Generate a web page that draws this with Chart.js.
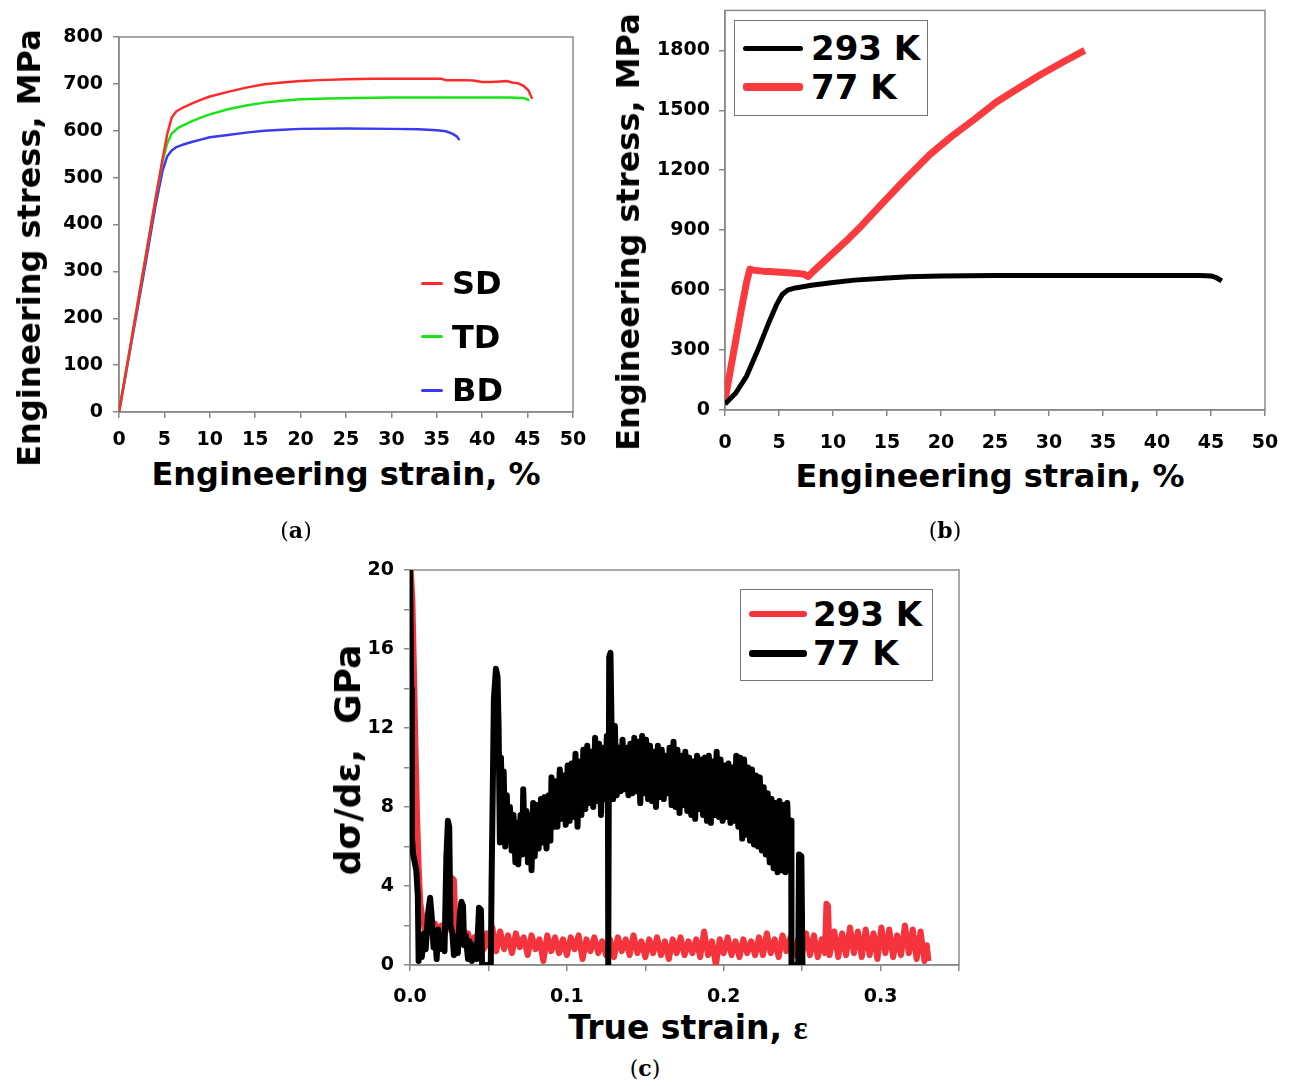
<!DOCTYPE html>
<html>
<head>
<meta charset="utf-8">
<title>Tensile behaviour</title>
<script src="https://cdn.jsdelivr.net/npm/chart.js@4.4.0/dist/chart.umd.min.js"></script>
<style>
  body { margin: 0; width: 1291px; height: 1086px; background: #fff; position: relative; overflow: hidden; font-family: 'DejaVu Sans', sans-serif; }
  canvas { position: absolute; }
  .title { position: absolute; font-weight: bold; font-size: 32px; line-height: 1; white-space: pre; color: #000; }
  .ytitle { transform: translate(-50%, -50%) rotate(-90deg); }
  .xtitle { transform: translate(-50%, -50%); }
  .serif { font-family: 'Liberation Serif', serif; }
  .tag { position: absolute; font-family: 'DejaVu Serif', serif; font-size: 22px; line-height: 1; transform: translate(-50%, -50%); }
  .box { position: absolute; border: 1.5px solid #777; background: #fff; box-sizing: border-box; }
  .seg { position: absolute; border-radius: 3px; }
  .key { position: absolute; font-weight: bold; line-height: 1; transform: translateY(-50%); white-space: pre; }
</style>
</head>
<body>
<canvas id="chartA" width="600" height="450" style="left:0;top:0"></canvas>
<canvas id="chartB" width="700" height="460" style="left:600px;top:-10px"></canvas>
<canvas id="chartC" width="700" height="465" style="left:300px;top:540px"></canvas>

<div class="title ytitle" style="left:29px;top:248px">Engineering stress, MPa</div>
<div class="title xtitle" style="left:346px;top:474px">Engineering strain, %</div>
<div class="title ytitle" style="left:628px;top:232px">Engineering stress, MPa</div>
<div class="title xtitle" style="left:990px;top:476px">Engineering strain, %</div>
<div class="title ytitle" style="left:348px;top:760px;font-size:36px">dσ/dε,  GPa</div>
<div class="title xtitle" style="left:688px;top:1028px;font-size:33px">True strain, <span class="serif">ε</span></div>

<div class="tag" style="left:296px;top:530px">(<b>a</b>)</div>
<div class="tag" style="left:945px;top:530px">(<b>b</b>)</div>
<div class="tag" style="left:645px;top:1068px">(<b>c</b>)</div>

<script>
// (a) engineering stress-strain curves for the three directions
const directionLabels = ['SD', 'TD', 'BD'];
const directionColors = ['#ff2b2b', '#18e418', '#3a3af0'];
const sdCurve = [[0, 0], [1, 112], [2, 225], [3, 338], [4, 452], [4.8, 540], [5.3, 592],
  [5.8, 628], [6.3, 641], [7, 649], [8, 658], [9, 666], [10, 673], [12, 683], [14, 692], [16, 699], [18, 703],
  [20, 706], [22, 708], [25, 710], [28, 711], [31, 711], [34, 711], [35.5, 711], [36, 708], [37, 708], [38, 708],
  [39, 707], [40, 704], [41, 704], [42, 705], [42.7, 706], [43.3, 703], [44, 701], [44.6, 695], [45.1, 686], [45.5, 668]];
const tdCurve = [[0, 0], [1, 112], [2, 225], [3, 338], [4, 452], [4.8, 535], [5.3, 573],
  [5.8, 594], [6.5, 606], [7, 611], [8, 620], [9, 628], [10, 635], [12, 646], [14, 654], [16, 660], [18, 664],
  [20, 667], [23, 669], [26, 670], [30, 671], [35, 671], [40, 671], [43, 671], [44.5, 670], [45.2, 665]];
const bdCurve = [[0, 0], [1, 108], [2, 216], [3, 325], [4, 438], [4.8, 515], [5.3, 545],
  [5.8, 558], [6.3, 565], [7, 570], [8, 576], [9, 581], [10, 586], [12, 591], [14, 596], [16, 600], [18, 602],
  [20, 604], [25, 605], [30, 604], [33, 603], [35, 601], [36, 599], [36.7, 594], [37.2, 588], [37.5, 580]];

// (b) room temperature vs liquid nitrogen
const tempLabels = ['293 K', '77 K'];
const roomCurve = [[0, 30], [1, 85], [2, 170], [3, 295], [4, 430], [4.8, 530], [5.3, 578],
  [5.8, 600], [6.5, 611], [8, 624], [10, 638], [12, 650], [15, 661], [17, 667], [20, 671], [25, 673], [30, 673],
  [35, 673], [40, 673], [44, 673], [45, 671], [45.5, 662], [46, 646]];
const cryoCurve = [[0, 50], [0.5, 200], [1.0, 350], [1.5, 500], [2.0, 640], [2.3, 705], [2.6, 700], [3.5, 695],
  [4.5, 692], [5.5, 688], [6.5, 684], [7.3, 680], [7.7, 668], [8.2, 695], [8.8, 725], [10, 785], [11.2, 845],
  [12.6, 920], [14.5, 1030], [16.6, 1150], [19, 1280], [21, 1370], [23.1, 1455], [25.1, 1540], [27.2, 1612],
  [29.2, 1678], [31.3, 1742], [33.3, 1800]];

// (c) work-hardening rate vs true strain
const hardeningLabels = ['293 K', '77 K'];
const roomHardening = [[0.0005, 20], [0.0015, 18.5], [0.0025, 15], [0.0035, 11], [0.0045, 7.5], [0.0055, 5],
  [0.0065, 3.2], [0.0075, 2.6], [0.0085, 2.2], [0.010, 1.6], [0.012, 2.2], [0.014, 1.7], [0.016, 2.1], [0.018, 1.5],
  [0.020, 2.0], [0.022, 1.5], [0.024, 2.1], [0.026, 2.4], [0.0268, 4.4], [0.028, 4.3], [0.029, 2.0], [0.031, 1.4],
  [0.033, 1.8], [0.035, 1.1], [0.037, 1.6], [0.039, 0.9], [0.041, 1.4], [0.043, 0.6], [0.045, 1.3], [0.047, 0.8],
  [0.049, 1.6], [0.051, 0.9], [0.0525, 1.9], [0.055, 0.7], [0.0575, 1.7], [0.060, 0.8], [0.0625, 1.5], [0.065, 0.6],
  [0.0675, 1.6], [0.070, 0.9], [0.0725, 1.4], [0.075, 0.5], [0.0775, 1.5], [0.080, 0.8], [0.0825, 1.3], [0.085, 0.2],
  [0.0875, 1.5], [0.090, 0.7], [0.0925, 1.4], [0.095, 0.6], [0.0975, 1.3], [0.100, 0.5], [0.1025, 1.4], [0.105, 0.8],
  [0.1075, 1.5], [0.110, 0.3], [0.1125, 1.3], [0.115, 0.7], [0.1175, 1.4], [0.120, 0.6], [0.1225, 1.2], [0.125, 0.5],
  [0.1275, 1.3], [0.130, 0.4], [0.1325, 1.4], [0.135, 0.7], [0.1375, 1.3], [0.140, 0.5], [0.1425, 1.5], [0.145, 0.6],
  [0.1475, 1.2], [0.150, 0.4], [0.1525, 1.3], [0.155, 0.6], [0.1575, 1.4], [0.160, 0.5], [0.1625, 1.2], [0.165, 0.3],
  [0.1675, 1.3], [0.170, 0.6], [0.1725, 1.4], [0.175, 0.5], [0.1775, 1.2], [0.180, 0.6], [0.1825, 1.3], [0.185, 0.4],
  [0.1875, 1.7], [0.190, 0.5], [0.1925, 1.2], [0.195, 0.0], [0.1975, 1.3], [0.200, 0.6], [0.2025, 1.4], [0.205, 0.5],
  [0.2075, 1.2], [0.210, 0.4], [0.2125, 1.3], [0.215, 0.6], [0.2175, 1.2], [0.220, 0.5], [0.2225, 1.4], [0.225, 0.5],
  [0.2275, 1.6], [0.230, 0.6], [0.2325, 1.3], [0.235, 0.4], [0.2375, 1.5], [0.240, 0.7], [0.2425, 1.4], [0.245, 0.5],
  [0.2475, 1.3], [0.250, 0.6], [0.2525, 1.6], [0.255, 0.5], [0.2575, 1.5], [0.260, 0.4], [0.2625, 1.3], [0.2645, 0.6],
  [0.2655, 3.1], [0.2665, 3.0], [0.2675, 0.5], [0.2705, 1.7], [0.273, 0.4], [0.2755, 1.6], [0.278, 0.5], [0.2805, 1.9],
  [0.283, 0.6], [0.2855, 1.7], [0.288, 0.4], [0.2905, 1.8], [0.293, 0.5], [0.2955, 1.6], [0.298, 0.3], [0.3005, 1.9],
  [0.303, 0.6], [0.3055, 1.8], [0.308, 0.4], [0.3105, 1.5], [0.313, 0.5], [0.3155, 2.0], [0.318, 0.6], [0.3205, 1.8],
  [0.323, 0.3], [0.3255, 1.7], [0.328, 0.2], [0.3295, 1.0], [0.3305, 0.2]];
const cryoHardening = [[0.0, 20], [0.0008, 14], [0.0012, 6.5], [0.002, 5.6], [0.004, 4.8], [0.005, 3.5], [0.0055, 0.2],
  [0.0065, 1.4], [0.0075, 0.4], [0.009, 1.6], [0.010, 0.8], [0.0115, 2.6], [0.0128, 3.4], [0.0138, 2.5], [0.015, 0.9],
  [0.016, 1.6], [0.017, 0.3], [0.018, 1.8], [0.019, 0.8], [0.0205, 1.5], [0.022, 0.7], [0.0232, 5.5], [0.0242, 7.3],
  [0.025, 7.0], [0.0258, 2.0], [0.027, 1.6], [0.028, 0.5], [0.029, 1.4], [0.0305, 0.6], [0.0318, 2.6], [0.0328, 3.2],
  [0.0338, 3.0], [0.0345, 1.0], [0.0355, 1.5], [0.037, 0.3], [0.038, 1.2], [0.0395, 0.2], [0.041, 1.0], [0.0425, 0.3],
  [0.044, 2.9], [0.0452, 2.8], [0.046, 0.0], [0.0515, 0.0], [0.052, 4.1], [0.0535, 13.5], [0.0548, 15.0],
  [0.0558, 14.6], [0.0565, 12.0], [0.0573, 6.2], [0.058, 10.5], [0.059, 6.5], [0.0597, 9.8], [0.0607, 6.0],
  [0.0617, 8.6], [0.0627, 6.3], [0.0637, 8.0], [0.0648, 5.8], [0.066, 7.6], [0.0672, 5.2], [0.0685, 7.2], [0.069, 5.1],
  [0.0705, 7.6], [0.0715, 5.6], [0.0722, 8.9], [0.0732, 6.0], [0.0742, 7.8], [0.0752, 5.2], [0.0765, 7.6], [0.0775, 4.8],
  [0.0785, 8.2], [0.0795, 5.5], [0.081, 8.1], [0.082, 5.9], [0.0835, 8.4], [0.0845, 6.2], [0.0858, 8.5], [0.087, 5.9],
  [0.0885, 8.6], [0.0895, 6.3], [0.0902, 9.5], [0.0915, 7.0], [0.0928, 9.3], [0.094, 7.0], [0.0955, 9.9], [0.0968, 7.4],
  [0.098, 9.6], [0.0993, 7.1], [0.1005, 10.1], [0.1018, 7.3], [0.103, 10.2], [0.1043, 7.5], [0.1055, 10.7],
  [0.1068, 7.0], [0.108, 10.3], [0.1093, 7.6], [0.1105, 10.9], [0.1118, 7.9], [0.113, 11.1], [0.1143, 8.2],
  [0.1155, 10.8], [0.1168, 8.0], [0.118, 11.5], [0.1193, 8.3], [0.1205, 11.2], [0.1218, 7.6], [0.123, 11.0],
  [0.1243, 8.4], [0.1255, 11.6], [0.1262, 8.4], [0.1264, 0.0], [0.1268, 0.0], [0.127, 15.6], [0.1278, 15.8],
  [0.1285, 12.0], [0.1295, 8.4], [0.1306, 12.1], [0.1318, 8.6], [0.133, 11.0], [0.1343, 8.8], [0.1355, 11.4],
  [0.1368, 8.9], [0.138, 11.0], [0.1393, 8.6], [0.1405, 11.2], [0.1418, 8.7], [0.143, 11.5], [0.1443, 8.8],
  [0.1455, 11.3], [0.1468, 8.2], [0.148, 11.6], [0.1493, 8.7], [0.1505, 11.4], [0.1518, 8.4], [0.153, 11.1],
  [0.1543, 8.3], [0.1555, 10.8], [0.1568, 8.0], [0.158, 11.1], [0.1593, 8.5], [0.1605, 10.9], [0.1618, 8.4],
  [0.163, 10.6], [0.1643, 8.7], [0.1655, 11.0], [0.1668, 8.1], [0.168, 11.3], [0.1693, 8.0], [0.1705, 10.9],
  [0.1718, 7.7], [0.173, 10.6], [0.1743, 8.1], [0.1755, 10.8], [0.1768, 7.8], [0.178, 10.5], [0.1793, 7.6],
  [0.1805, 10.3], [0.1818, 7.4], [0.183, 10.6], [0.1843, 7.9], [0.1855, 10.4], [0.1868, 7.6], [0.188, 10.5],
  [0.1893, 7.3], [0.1905, 10.6], [0.1918, 7.2], [0.193, 10.3], [0.1943, 7.6], [0.1955, 10.8], [0.1968, 7.5],
  [0.198, 10.4], [0.1993, 7.3], [0.2005, 10.1], [0.2018, 7.5], [0.203, 10.2], [0.2043, 7.2], [0.2055, 10.0],
  [0.2068, 7.3], [0.208, 10.6], [0.2093, 7.0], [0.2105, 10.5], [0.2118, 6.4], [0.213, 10.4], [0.2143, 6.6],
  [0.2155, 10.0], [0.2168, 6.3], [0.218, 9.9], [0.2193, 6.1], [0.2205, 9.6], [0.2218, 6.0], [0.223, 9.5],
  [0.2243, 5.8], [0.2255, 9.0], [0.2268, 5.6], [0.228, 8.7], [0.2293, 5.2], [0.2305, 8.4], [0.2318, 4.9],
  [0.233, 8.2], [0.2343, 4.7], [0.2355, 8.3], [0.2368, 4.8], [0.238, 8.1], [0.2393, 4.7], [0.2405, 8.2],
  [0.2418, 4.8], [0.243, 7.3], [0.2432, 0.0], [0.2475, 0.0], [0.248, 5.6], [0.2495, 5.5], [0.2502, 0.0], [0.251, 0.0]];

Chart.defaults.animation = false;
Chart.defaults.font.family = 'DejaVu Sans';

const toPoints = curve => curve.map(p => ({ x: p[0], y: p[1] }));

// grey box round the plot area
const frame = {
  id: 'frame',
  beforeDatasetsDraw(chart) {
    const { ctx, chartArea: a } = chart;
    ctx.save();
    ctx.strokeStyle = '#8a8a8a';
    ctx.lineWidth = 1.5;
    ctx.strokeRect(a.left, a.top, a.right - a.left, a.bottom - a.top);
    ctx.restore();
  }
};

function axes(o) {
  const font = { family: 'DejaVu Sans', size: 19, weight: 'bold' };
  const grid = { drawOnChartArea: false, tickLength: 6, color: '#888', lineWidth: 1.5 };
  const border = { color: '#888', width: 1.5 };
  return {
    x: {
      type: 'linear', min: o.xMin, max: o.xMax,
      afterFit: s => { s.height = o.xHeight; },
      ticks: { stepSize: o.xStep, includeBounds: false, autoSkip: false, maxRotation: 0, padding: o.xPad,
        color: '#000', font, callback: o.xFmt || (v => v) },
      grid, border
    },
    y: {
      type: 'linear', min: o.yMin, max: o.yMax,
      afterFit: s => { s.width = o.yWidth; },
      ticks: { stepSize: o.yStep, includeBounds: false, autoSkip: false, padding: o.yPad,
        color: '#000', font, callback: o.yFmt || (v => v) },
      grid, border
    }
  };
}

function lineSet(label, curve, color, width) {
  return { label, data: toPoints(curve), borderColor: color, backgroundColor: color, borderWidth: width,
    pointRadius: 0, showLine: true, tension: 0, borderJoinStyle: 'round' };
}

function baseOptions(scales, padding) {
  return { responsive: false, layout: { padding }, scales,
    plugins: { legend: { display: false }, tooltip: { enabled: false } } };
}

// legend drawn as page elements: a short line and a label per entry
function addLegend(items, o) {
  if (o.box) {
    const b = document.createElement('div');
    b.className = 'box';
    Object.assign(b.style, { left: o.box[0] + 'px', top: o.box[1] + 'px', width: o.box[2] + 'px', height: o.box[3] + 'px' });
    document.body.appendChild(b);
  }
  items.forEach((it, i) => {
    const y = o.y + i * o.gap;
    const seg = document.createElement('div');
    seg.className = 'seg';
    Object.assign(seg.style, { left: o.x + 'px', top: (y - it.w / 2) + 'px', width: o.len + 'px', height: it.w + 'px', background: it.color });
    document.body.appendChild(seg);
    const key = document.createElement('div');
    key.className = 'key';
    key.textContent = it.label;
    Object.assign(key.style, { left: (o.x + o.len + o.space) + 'px', top: y + 'px', fontSize: o.size + 'px' });
    document.body.appendChild(key);
  });
}

// (a)
new Chart(document.getElementById('chartA'), {
  type: 'scatter',
  data: { datasets: [
    lineSet(directionLabels[0], sdCurve, directionColors[0], 2.5),
    lineSet(directionLabels[1], tdCurve, directionColors[1], 2.5),
    lineSet(directionLabels[2], bdCurve, directionColors[2], 2.5)
  ] },
  options: baseOptions(axes({ xMin: 0, xMax: 50, xStep: 5, xHeight: 38, xPad: 11,
    yMin: 0, yMax: 800, yStep: 100, yWidth: 119, yPad: 10 }), { left: 0, top: 37, right: 27, bottom: 0 }),
  plugins: [frame]
});
addLegend(directionLabels.map((l, i) => ({ label: l, color: directionColors[i], w: 3 })),
  { x: 421, y: 283, gap: 53.5, len: 22, space: 9, size: 32 });

// (b)
const tempColors = ['#000000', '#fb3a3e'];
new Chart(document.getElementById('chartB'), {
  type: 'scatter',
  data: { datasets: [
    lineSet(tempLabels[0], roomCurve, tempColors[0], 5),
    lineSet(tempLabels[1], cryoCurve, tempColors[1], 7)
  ] },
  options: baseOptions(axes({ xMin: 0, xMax: 50, xStep: 5, xHeight: 40, xPad: 16,
    yMin: 0, yMax: 2000, yStep: 300, yWidth: 125, yPad: 9 }), { left: 0, top: 20, right: 35, bottom: 0 }),
  plugins: [frame]
});
addLegend([{ label: tempLabels[0], color: tempColors[0], w: 5 }, { label: tempLabels[1], color: tempColors[1], w: 8 }],
  { box: [734, 20, 194, 96], x: 743, y: 48, gap: 39, len: 60, space: 8, size: 34 });

// (c)
const hardeningColors = ['#f5333d', '#000000'];
new Chart(document.getElementById('chartC'), {
  type: 'scatter',
  data: { datasets: [
    lineSet(hardeningLabels[1], cryoHardening, hardeningColors[1], 6),
    lineSet(hardeningLabels[0], roomHardening, hardeningColors[0], 6)
  ] },
  options: baseOptions(axes({ xMin: 0, xMax: 0.35, xStep: 0.05, xHeight: 40, xPad: 15,
    xFmt: v => (Math.abs(v * 10 - Math.round(v * 10)) < 1e-6 ? v.toFixed(1) : ''),
    yMin: 0, yMax: 20, yStep: 2, yWidth: 110, yPad: 10,
    yFmt: v => (v % 4 === 0 ? v : '') }), { left: 0, top: 30, right: 41, bottom: 0 }),
  plugins: [frame]
});
addLegend([{ label: hardeningLabels[0], color: hardeningColors[0], w: 6 }, { label: hardeningLabels[1], color: hardeningColors[1], w: 7 }],
  { box: [740, 589, 193, 92], x: 749, y: 614, gap: 39, len: 58, space: 6, size: 34 });
</script>
</body>
</html>
